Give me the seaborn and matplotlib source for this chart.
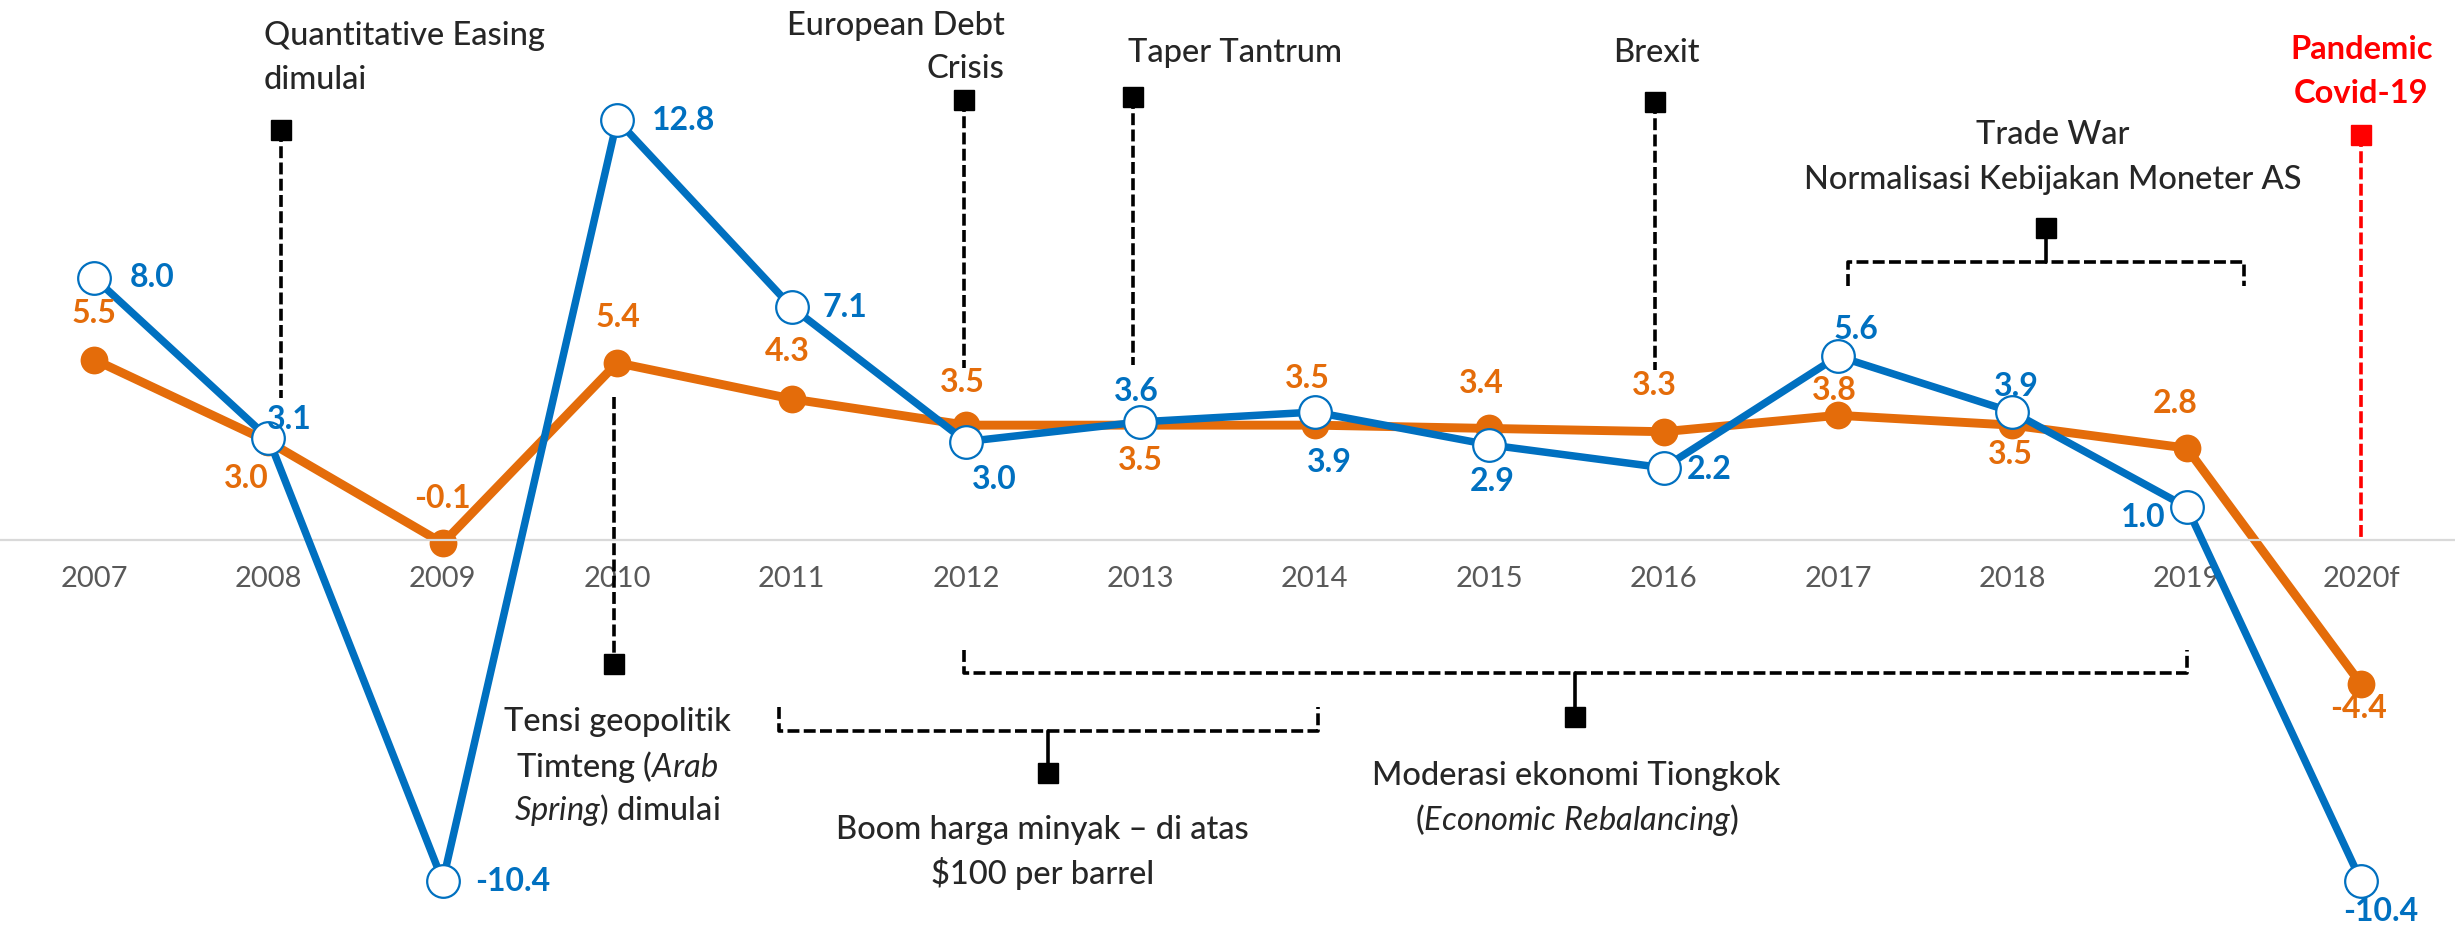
import matplotlib

matplotlib.use("Agg")

import matplotlib.pyplot as plt
import seaborn as sns

# data (growth, %)
years = ["2007", "2008", "2009", "2010", "2011", "2012", "2013",
         "2014", "2015", "2016", "2017", "2018", "2019", "2020f"]
trade_growth = [8.0, 3.1, -10.4, 12.8, 7.1, 3.0, 3.6, 3.9, 2.9, 2.2, 5.6, 3.9, 1.0, -10.4]
gdp_growth = [5.5, 3.0, -0.1, 5.4, 4.3, 3.5, 3.5, 3.5, 3.4, 3.3, 3.8, 3.5, 2.8, -4.4]

BLUE = "#0070C0"
ORANGE = "#E46C0A"
RED = "#FF0000"
GREY = "#595959"

# label offsets from each point, in pixels (dx, dy up)
trade_offsets = [(58, 0), (21, 19), (70, 0), (66, 0), (53, 0), (28, -38), (-4, 30),
                 (15, -50), (3, -37), (46, -2), (18, 27), (4, 26), (-44, -10), (20, -30)]
gdp_offsets = [(0, 46), (-22, -37), (0, 45), (1, 45), (-4, 47), (-4, 43), (0, -35),
               (-7, 47), (-8, 45), (-9, 46), (-4, 25), (-2, -29), (-12, 45), (-3, -24)]

DASH = (0, (3.3, 1.2))
DLW = 2.6
TXT = 23.5


def event_line(ax, x, y0, y1, y_square, color="black"):
    ax.plot([x, x], [y0, y1], color=color, lw=DLW, ls=DASH, zorder=1)
    ax.plot([x], [y_square], marker="s", ms=15, color=color, zorder=5)


def bracket(ax, x0, x1, y, tip, xc, y_square):
    ax.plot([x0, x0, x1, x1], [tip, y, y, tip], color="black", lw=DLW, ls=DASH, zorder=1)
    ax.plot([xc, xc], [y, y_square], color="black", lw=DLW, zorder=1)
    ax.plot([xc], [y_square], marker="s", ms=15, color="black", zorder=5)


def text_lines(ax, x, baselines, lines, ha="center", **kw):
    kw.setdefault("fontweight", 500)
    for yb, s in zip(baselines, lines):
        ax.text(x, yb, s, ha=ha, va="baseline", fontsize=TXT, **kw)


def main() -> None:
    sns.set_theme(style="white")
    plt.rcParams["font.family"] = ["Lato", "DejaVu Sans"]
    plt.rcParams["mathtext.fontset"] = "custom"
    plt.rcParams["mathtext.rm"] = "Lato"
    plt.rcParams["mathtext.it"] = "Lato:italic"
    plt.rcParams["mathtext.bf"] = "Lato:bold"

    fig = plt.figure(figsize=(24.55, 9.31), dpi=100)
    ax = fig.add_axes([0, 0, 1, 1])
    pos = list(range(len(years)))

    sns.lineplot(x=pos, y=gdp_growth, color=ORANGE, lw=6.4, marker="o", ms=20,
                 markerfacecolor=ORANGE, markeredgecolor=ORANGE, markeredgewidth=0,
                 ax=ax, zorder=2)
    sns.lineplot(x=pos, y=trade_growth, color=BLUE, lw=5.4, marker="o", ms=23.5,
                 markerfacecolor="white", markeredgecolor=BLUE, markeredgewidth=1.6,
                 ax=ax, zorder=3)

    for i, (v, off) in enumerate(zip(gdp_growth, gdp_offsets)):
        ax.annotate(f"{v:.1f}", (i, v), xytext=off, textcoords="offset pixels",
                    ha="center", va="center", color=ORANGE, fontsize=23,
                    fontweight="bold", zorder=6)
    for i, (v, off) in enumerate(zip(trade_growth, trade_offsets)):
        ax.annotate(f"{v:.1f}", (i, v), xytext=off, textcoords="offset pixels",
                    ha="center", va="center", color=BLUE, fontsize=23,
                    fontweight="bold", zorder=6)

    # event markers
    event_line(ax, 1.07, 12.5, 4.33, 12.5)
    text_lines(ax, 0.975, [15.09, 13.75], ["Quantitative Easing", "dimulai"], ha="left")

    event_line(ax, 2.98, 4.36, -3.78, -3.78)
    text_lines(ax, 3.0, [-5.82, -7.23, -8.54],
               ["Tensi geopolitik", r"Timteng ($\mathit{Arab}$", r"$\mathit{Spring)}$ dimulai"])

    event_line(ax, 4.99, 13.41, 5.24, 13.41)
    text_lines(ax, 5.22, [15.40, 14.09], ["European Debt", "Crisis"], ha="right")

    event_line(ax, 5.96, 13.5, 5.34, 13.5)
    text_lines(ax, 5.93, [14.57], ["Taper Tantrum"], ha="left")

    event_line(ax, 8.95, 13.35, 5.18, 13.35)
    text_lines(ax, 8.96, [14.57], ["Brexit"])

    event_line(ax, 13.0, 12.35, 0.0, 12.35, color=RED)
    text_lines(ax, 13.0, [14.66, 13.32], ["Pandemic", "Covid-19"], color=RED, fontweight="bold")

    bracket(ax, 10.06, 12.33, 8.48, 7.74, 11.19, 9.51)
    text_lines(ax, 11.23, [12.07, 10.70], ["Trade War", "Normalisasi Kebijakan Moneter AS"])

    bracket(ax, 3.93, 7.02, -5.82, -5.09, 5.47, -7.10)
    text_lines(ax, 5.44, [-9.12, -10.49],
               ["Boom harga minyak \u2013 di atas", "$100 per barrel"], parse_math=False)

    bracket(ax, 4.99, 12.0, -4.05, -3.35, 8.49, -5.40)
    text_lines(ax, 8.50, [-7.47, -8.84],
               ["Moderasi ekonomi Tiongkok", r"($\mathit{Economic\ Rebalancing}$)"])

    ax.set_xlim(-0.539, 13.538)
    ax.set_ylim(-11.92, 16.46)
    ax.set_xticks(pos)
    ax.set_xticklabels(years)
    ax.tick_params(axis="x", length=0, pad=19, labelsize=21, labelcolor=GREY)
    ax.set_yticks([])
    for side in ["top", "left", "right"]:
        ax.spines[side].set_visible(False)
    ax.spines["bottom"].set_position(("data", 0))
    ax.spines["bottom"].set_color("#D9D9D9")
    ax.spines["bottom"].set_linewidth(1.6)
    ax.set_xlabel("")
    ax.set_ylabel("")

    fig.savefig("out.png", dpi=100)
    plt.close(fig)


if __name__ == "__main__":
    main()
